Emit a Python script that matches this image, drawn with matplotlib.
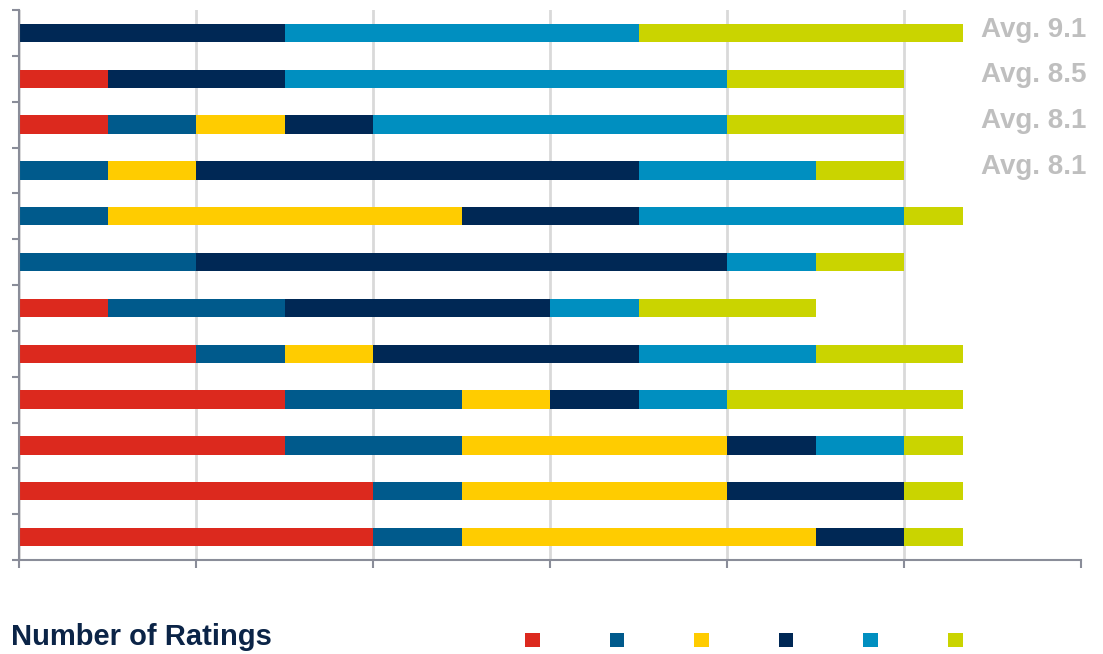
import numpy as np
import matplotlib
matplotlib.use("Agg")
import matplotlib.pyplot as plt
from matplotlib.patches import Patch, Rectangle

plt.rcParams['font.family'] = ['Liberation Sans', 'DejaVu Sans']

# --- data (counts per rating group, top bar first) ---
groups = ['4', '6', '7', '8', '9', '10']
colors = ['#dc291e', '#005a8c', '#ffcc00', '#002855', '#008fc0', '#cad400']

red    = [0, 1, 1, 0, 0, 0, 1, 2, 3, 3, 4, 4]
blue   = [0, 0, 1, 1, 1, 2, 2, 1, 2, 2, 1, 1]
yellow = [0, 0, 1, 1, 4, 0, 0, 1, 1, 3, 3, 4]
navy   = [3, 2, 1, 5, 2, 6, 3, 3, 1, 1, 2, 1]
lblue  = [4, 5, 4, 2, 3, 1, 1, 2, 1, 1, 0, 0]
lime   = [4, 2, 2, 1, 1, 1, 2, 2, 3, 1, 1, 1]
series = [red, blue, yellow, navy, lblue, lime]

averages = [9.1, 8.5, 8.1, 8.1]

# --- figure ---
fig = plt.figure(figsize=(11.03, 6.54), dpi=100)
ax = fig.add_axes([19 / 1103, 94 / 654, 1062 / 1103, 550 / 654])

y = np.arange(len(red))
left = np.zeros(len(red))
for vals, col in zip(series, colors):
    ax.barh(y, vals, left=left, height=0.4, color=col, zorder=1)
    left += np.array(vals)

# white panel hiding the right end of the plot area
ax.add_patch(Rectangle((10.67, -0.5), 2, 12, facecolor='white',
                       edgecolor='none', zorder=2))

for i, a in enumerate(averages):
    ax.text(10.87, i + 0.08, f"Avg. {a}", color='#bfbfbf', fontsize=20,
            fontweight='bold', va='baseline', ha='left', zorder=3)

ax.set_xlim(0, 12)
ax.set_ylim(11.5, -0.5)
ax.set_xticks(np.arange(0, 13, 2))
ax.set_yticks(np.arange(-0.5, 12, 1))
ax.set_xticklabels([])
ax.set_yticklabels([])
ax.set_axisbelow(True)
ax.grid(axis='x', color='#d9d9d9', linewidth=2)

for s in ['top', 'right']:
    ax.spines[s].set_visible(False)
for s in ['left', 'bottom']:
    ax.spines[s].set_color('#8a8d99')
    ax.spines[s].set_linewidth(1.5)
ax.tick_params(axis='y', direction='out', length=5, width=1.5, color='#8a8d99')
ax.tick_params(axis='x', direction='out', length=6, width=1.5, color='#8a8d99')

fig.text(11 / 1103, 17 / 654, "Number of Ratings", fontsize=21,
         fontweight='bold', color='#0b2447', va='center', ha='left')

handles = [Patch(facecolor=c, edgecolor='none') for c in colors]
fig.legend(handles, [''] * len(colors), loc='center left',
           bbox_to_anchor=(525 / 1103, 14 / 654), ncol=6, frameon=False,
           fontsize=10.5, handlelength=1.0, handleheight=1.1, handletextpad=0,
           columnspacing=4.8, borderpad=0, borderaxespad=0)

fig.savefig("out.png", dpi=100)
